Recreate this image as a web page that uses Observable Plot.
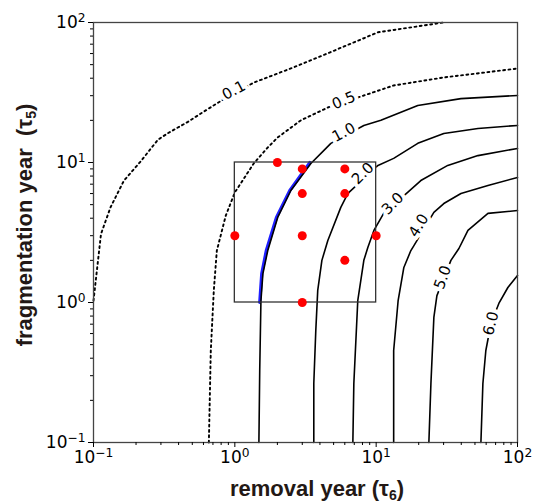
<!DOCTYPE html>
<html><head><meta charset="utf-8">
<script src="https://cdn.jsdelivr.net/npm/d3@7"></script>
<script src="https://cdn.jsdelivr.net/npm/@observablehq/plot@0.6"></script>
<style>body{margin:0;background:#fff}</style>
</head><body><div id="chart"></div>
<script>
// Tick values
const majorTicks = [0.1, 1, 10, 100];
const tickExponents = ["−1", "0", "1", "2"];
const minorTicks = [0.2,0.3,0.4,0.5,0.6,0.7,0.8,0.9, 2,3,4,5,6,7,8,9, 20,30,40,50,60,70,80,90];

// Contour lines (x = removal year, y = fragmentation year)
const c01X = [0.1, 0.113, 0.132, 0.164, 0.216, 0.285, 0.336, 0.465, 0.575, 0.796, 1.36, 2.62, 4.55, 10.3, 30];
const c01Y = [1.03, 3.09, 4.79, 7.41, 10.2, 14.5, 16.2, 19.5, 22.4, 27.5, 37.2, 47.9, 60.3, 85.1, 100];
const c05X = [0.655, 0.676, 0.710, 0.746, 0.863, 1.0, 1.36, 1.71, 2.01, 2.93, 4.55, 8.18, 13.3, 30.1, 100];
const c05Y = [0.1, 0.454, 1.22, 2.35, 4.18, 6.11, 9.84, 12.8, 15.1, 20.0, 24.7, 30.1, 35.5, 40.5, 46.9];
const c10X = [1.48, 1.50, 1.53, 1.58, 1.71, 2.01, 2.49, 3.45, 4.27, 4.78, 8.18, 10.8, 19.7, 39.8, 100];
const c10Y = [0.1, 0.327, 1.03, 1.61, 2.35, 4.05, 6.31, 9.84, 12.2, 13.7, 18.4, 20.0, 25.5, 28.6, 30.1];
const c20X = [3.62, 3.62, 3.74, 3.86, 4.13, 4.55, 5.62, 6.31, 10.3, 13.3, 19.7, 30.1, 52.5, 100];
const c20Y = [0.1, 0.264, 0.631, 1.22, 2.0, 2.77, 4.78, 6.01, 9.53, 10.7, 13.7, 16.1, 17.5, 18.4];
const c30X = [6.84, 6.95, 7.41, 8.18, 8.73, 9.64, 11.3, 16.7, 20.7, 32.1, 52.5, 100];
const c30Y = [0.1, 0.264, 1.03, 2.0, 2.47, 3.27, 4.33, 6.11, 7.43, 9.53, 11.2, 12.6];
const c40X = [13.3, 13.3, 14.3, 15.7, 17.6, 18.5, 25.6, 30.1, 39.8, 61.8, 100];
const c40Y = [0.1, 0.454, 1.03, 1.78, 2.35, 2.55, 4.40, 5.09, 6.01, 6.85, 7.82];
const c50X = [23.6, 24.4, 25.6, 26.9, 33.8, 38.5, 44.6, 61.8, 100];
const c50Y = [0.1, 0.264, 0.782, 1.12, 2.0, 2.43, 3.27, 4.33, 4.54];
const c60X = [55.1, 56.9, 59.7, 64.9, 73.8, 85.5, 100];
const c60Y = [0.1, 0.264, 0.454, 0.708, 0.984, 1.28, 1.56];

// Blue highlighted curve
const blueX = [1.50, 1.55, 1.67, 1.97, 2.45, 3.40];
const blueY = [1.0, 1.61, 2.35, 4.05, 6.31, 10.0];

// Contour labels
const labelText = ["0.1", "0.5", "1.0", "2.0", "3.0", "4.0", "5.0", "6.0"];
const labelX = [0.984, 5.90, 5.90, 8.05, 13.1, 20.0, 29.6, 64.9];
const labelY = [32.7, 27.7, 16.4, 8.34, 5.09, 3.55, 1.51, 0.708];
const labelAngle = [-28, -22, -28, -45, -45, -58, -70, -76];

// Red sample points
const dotX = [1, 2, 3, 6, 3, 6, 3, 10, 6, 3];
const dotY = [3, 10, 9, 9, 6, 6, 3, 3, 2, 1];

// Box
const boxX = [1, 10];
const boxY = [1, 10];

function rows(level, xs, ys) { return xs.map((x, i) => ({level, x, y: ys[i]})); }
const dottedRows = [...rows("0.1", c01X, c01Y), ...rows("0.5", c05X, c05Y)];
const solidRows = [...rows("1.0", c10X, c10Y), ...rows("2.0", c20X, c20Y), ...rows("3.0", c30X, c30Y),
  ...rows("4.0", c40X, c40Y), ...rows("5.0", c50X, c50Y), ...rows("6.0", c60X, c60Y)];
const blueRows = blueX.map((x, i) => ({x, y: blueY[i]}));
const labels = labelText.map((t, i) => ({t, x: labelX[i], y: labelY[i], a: labelAngle[i]}));
const dots = dotX.map((x, i) => ({x, y: dotY[i]}));

const plot = Plot.plot({
  width: 533, height: 502,
  marginLeft: 93, marginRight: 16, marginTop: 22, marginBottom: 60,
  x: {type: "log", domain: [0.1, 100], label: null},
  y: {type: "log", domain: [0.1, 100], label: null},
  style: {fontFamily: "DejaVu Sans, sans-serif", fontSize: "17px", color: "#000", background: "#fff"},
  marks: [
    Plot.line(blueRows, {x: "x", y: "y", stroke: "#1f1fff", strokeWidth: 3.2}),
    Plot.line(solidRows, {x: "x", y: "y", z: "level", stroke: "#000", strokeWidth: 1.6}),
    Plot.line(dottedRows, {x: "x", y: "y", z: "level", stroke: "#000", strokeWidth: 1.9, strokeDasharray: "1.9 3.4"}),
    Plot.text(labels, {x: "x", y: "y", text: "t", rotate: "a", fontSize: 15, fill: "#000",
      stroke: "white", strokeWidth: 8, paintOrder: "stroke", fontFamily: "DejaVu Sans, sans-serif"}),
    Plot.rect([{x1: boxX[0], x2: boxX[1], y1: boxY[0], y2: boxY[1]}], {x1: "x1", x2: "x2", y1: "y1", y2: "y2",
      fill: "none", stroke: "#333", strokeWidth: 1.3}),
    Plot.dot(dots, {x: "x", y: "y", r: 4.5, fill: "#ff0000", stroke: "none"}),
    Plot.frame({stroke: "#444", strokeWidth: 1.3}),
    Plot.axisX(majorTicks, {tickSize: 5, tickPadding: 3, tickFormat: d => tickExponents[majorTicks.indexOf(d)], label: null}),
    Plot.axisX(minorTicks, {tickSize: 3, tickFormat: () => "", label: null}),
    Plot.axisY(majorTicks, {tickSize: 5, tickPadding: 3, tickFormat: d => tickExponents[majorTicks.indexOf(d)], label: null}),
    Plot.axisY(minorTicks, {tickSize: 3, tickFormat: () => "", label: null})
  ]
});

document.getElementById("chart").appendChild(plot);

const svg = d3.select(plot);
svg.selectAll('g[aria-label="x-axis tick label"] text, g[aria-label="y-axis tick label"] text').each(function() {
  const t = d3.select(this);
  const e = t.text();
  if (!e) return;
  t.text("10");
  t.append("tspan").attr("dy", "-0.45em").attr("font-size", "0.72em").text(e);
});

const titleFont = "Liberation Sans, Arial, Helvetica, sans-serif";
const xt = svg.append("text").attr("x", 317).attr("y", 496).attr("text-anchor", "middle")
  .attr("font-family", titleFont).attr("font-weight", "bold").attr("font-size", 22).attr("fill", "#231815");
xt.append("tspan").text("removal year (τ");
xt.append("tspan").attr("font-size", 14).attr("dy", 4).text("6");
xt.append("tspan").attr("dy", -4).text(")");

const yt = svg.append("text").attr("transform", "translate(32,225) rotate(-90)").attr("text-anchor", "middle")
  .attr("font-family", titleFont).attr("font-weight", "bold").attr("font-size", 22).attr("fill", "#231815")
  .style("white-space", "pre");
yt.append("tspan").text("fragmentation year  (τ");
yt.append("tspan").attr("font-size", 14).attr("dy", 4).text("5");
yt.append("tspan").attr("dy", -4).text(")");
</script>
</body></html>
